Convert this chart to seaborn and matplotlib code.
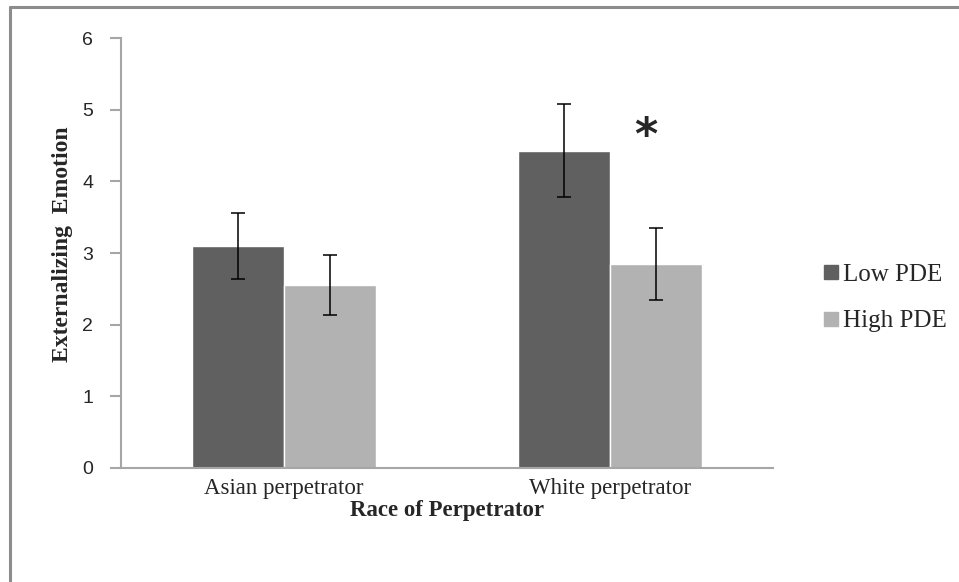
import matplotlib
matplotlib.use("Agg")
import matplotlib.pyplot as plt
import numpy as np
import pandas as pd
import seaborn as sns
from matplotlib.lines import Line2D

# values
races = ["Asian perpetrator", "White perpetrator"]
groups = ["Low PDE", "High PDE"]
low_means = [3.10, 4.43]
high_means = [2.55, 2.85]
low_err = [0.46, 0.645]
high_err = [0.42, 0.50]
yticks = [0, 1, 2, 3, 4, 5, 6]

df = pd.DataFrame({
    "race": races * 2,
    "group": [groups[0]] * 2 + [groups[1]] * 2,
    "mean": low_means + high_means,
    "err": low_err + high_err,
})

sns.set_style("white")
serif = ["Liberation Serif", "DejaVu Serif"]
axis_grey = "#a6a6a6"

fig = plt.figure(figsize=(9.59, 5.82), dpi=100)
ax = fig.add_axes([121 / 959, 1 - 468 / 582, (773 - 121) / 959, (468 - 38) / 582])

sns.barplot(
    data=df, x="race", y="mean", hue="group", order=races, hue_order=groups,
    palette=["#606060", "#b2b2b2"], width=0.567, gap=0, errorbar=None,
    saturation=1, legend=False, ax=ax,
)

# error bars centred on each bar patch (patches come hue level by level)
errs = low_err + high_err
means = low_means + high_means
for patch, m, e in zip(ax.patches, means, errs):
    cx = patch.get_x() + patch.get_width() / 2
    ax.errorbar(cx, m, yerr=e, fmt="none", ecolor="black", elinewidth=1.1,
                capsize=5, capthick=1.1)

ax.text(1.11, 4.63, "*", fontsize=32, fontweight="bold", ha="center",
        va="center", family="DejaVu Sans")

ax.set_xlim(-0.5, 1.5)
ax.set_ylim(0, 6)
ax.set_yticks(yticks)
ax.set_yticklabels([str(t) for t in yticks], family="Liberation Sans", fontsize=14)
for lab in ax.get_xticklabels():
    lab.set_family(serif)
    lab.set_fontsize(16.5)

for side in ["top", "right"]:
    ax.spines[side].set_visible(False)
for side in ["left", "bottom"]:
    ax.spines[side].set_color(axis_grey)
    ax.spines[side].set_linewidth(1.5)
ax.tick_params(axis="y", length=8, width=1.5, color=axis_grey, pad=12, left=True)
ax.tick_params(axis="x", length=0, pad=7)

ax.set_xlabel("Race of Perpetrator", family=serif, fontsize=16.5,
              fontweight="bold", labelpad=1)
ax.set_ylabel("Externalizing  Emotion", family=serif, fontsize=17,
              fontweight="bold")
ax.yaxis.set_label_coords(-0.073, 0.52)

handles = [
    Line2D([], [], marker="s", linestyle="none", markersize=10,
           markerfacecolor=c, markeredgecolor=c)
    for c in ["#606060", "#b2b2b2"]
]
fig.legend(handles, groups, loc="center left", bbox_to_anchor=(793 / 959, 1 - 298 / 582),
           frameon=False, prop={"family": serif, "size": 18}, handletextpad=-0.1,
           labelspacing=0.95, handlelength=1.2)

# outer frame of the chart area (top, left, right edges)
frame = dict(color="#8c8c8c", linewidth=2.2, transform=fig.transFigure)
fig.add_artist(Line2D([10 / 959, 1], [1 - 7 / 582, 1 - 7 / 582], **frame))
fig.add_artist(Line2D([10 / 959, 10 / 959], [0, 1 - 7 / 582], **frame))

fig.savefig("out.png", dpi=100, facecolor="white")
